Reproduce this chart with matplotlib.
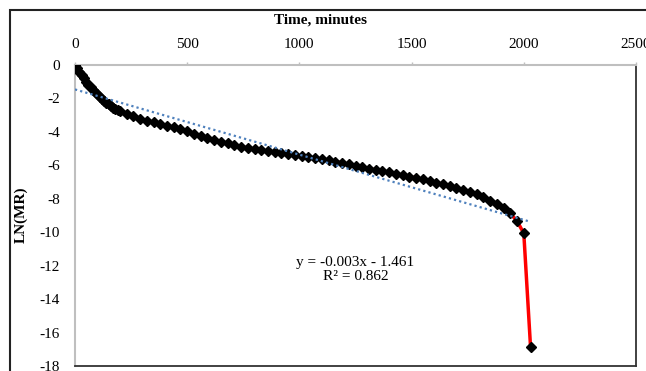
import numpy as np
import matplotlib
matplotlib.use('Agg')
import matplotlib.pyplot as plt
from matplotlib.patches import Rectangle

plt.rcParams['font.family'] = ['Liberation Serif', 'DejaVu Serif']
plt.rcParams['axes.unicode_minus'] = False

# drying time (minutes) and LN(MR)
time_min = [0, 10, 20, 30, 40, 50, 60, 70, 80, 90,
            100, 110, 120, 130, 140, 150, 160, 170, 180, 190,
            200, 230, 260, 290, 320, 350, 380, 410, 440, 470,
            500, 530, 560, 590, 620, 650, 680, 710, 740, 770,
            800, 830, 860, 890, 920, 950, 980, 1010, 1040, 1070,
            1100, 1130, 1160, 1190, 1220, 1250, 1280, 1310, 1340, 1370,
            1400, 1430, 1460, 1490, 1520, 1550, 1580, 1610, 1640, 1670,
            1700, 1730, 1760, 1790, 1820, 1850, 1880, 1910, 1940, 1970,
            2000, 2030]
ln_mr = [0.0, -0.2, -0.4, -0.6, -0.8, -1.0, -1.17, -1.32, -1.47, -1.62,
         -1.76, -1.9, -2.03, -2.15, -2.26, -2.36, -2.46, -2.56, -2.64, -2.7,
         -2.75, -2.92, -3.06, -3.2, -3.32, -3.43, -3.53, -3.63, -3.73, -3.82,
         -3.93, -4.1, -4.24, -4.35, -4.46, -4.58, -4.69, -4.8, -4.89, -4.96,
         -5.03, -5.09, -5.15, -5.2, -5.28, -5.34, -5.4, -5.46, -5.52, -5.58,
         -5.64, -5.7, -5.78, -5.86, -5.95, -6.03, -6.11, -6.2, -6.28, -6.35,
         -6.42, -6.5, -6.6, -6.68, -6.75, -6.84, -6.94, -7.03, -7.14, -7.26,
         -7.37, -7.48, -7.58, -7.73, -7.92, -8.12, -8.32, -8.58, -8.88, -9.33,
         -10.07, -16.85]

# linear trendline as drawn on the chart
trend_slope = -0.0039
trend_intercept = -1.461
trend_label = 'y = -0.003x - 1.461\nR² = 0.862'

x_ticks = [0, 500, 1000, 1500, 2000, 2500]
y_ticks = [0, -2, -4, -6, -8, -10, -12, -14, -16, -18]

fig = plt.figure(figsize=(6.46, 3.71), dpi=100)
ax = fig.add_axes([75 / 646, 1 - 366 / 371, 561 / 646, 301 / 371])

# data series: red line with black diamond markers
ax.plot(time_min, ln_mr, color='red', linewidth=2.5, zorder=2)
ax.plot(time_min, ln_mr, linestyle='none', marker='D', markersize=4.8,
        color='black', zorder=3)

# trendline
tx = np.array([time_min[0], time_min[-1]])
ax.plot(tx, trend_slope * tx + trend_intercept, color='#4F81BD',
        linewidth=1.6, linestyle=(0, (1, 1.4)), zorder=4)

ax.text(1250, -12.25, trend_label, ha='center', va='center', fontsize=11,
        linespacing=1.1)

ax.set_xlim(0, 2500)
ax.set_ylim(-18, 0)
ax.set_xticks(x_ticks)
ax.set_yticks(y_ticks)
ax.xaxis.tick_top()
ax.tick_params(axis='x', length=2.5, width=1, color='#bfbfbf', pad=7.5,
               labelsize=11)
ax.tick_params(axis='y', length=0, pad=11, labelsize=11)

ax.spines['top'].set_color('#bfbfbf')
ax.spines['top'].set_linewidth(1.5)
ax.spines['left'].set_color('#bfbfbf')
ax.spines['left'].set_linewidth(1.5)
ax.spines['right'].set_color('#333333')
ax.spines['bottom'].set_color('#333333')
ax.spines['right'].set_linewidth(1.3)
ax.spines['bottom'].set_linewidth(1.3)

fig.text(320 / 646, 1 - 20.5 / 371, 'Time, minutes', ha='center',
         va='center', fontsize=11, fontweight='bold')
fig.text(21 / 646, 1 - 215 / 371, 'LN(MR)', ha='center', va='center',
         rotation=90, fontsize=11, fontweight='bold')

# outer chart frame (cropped on the right and bottom)
fig.add_artist(Rectangle((10 / 646, -0.2), 1.2, 1 - 10 / 371 + 0.2,
                         transform=fig.transFigure, fill=False,
                         edgecolor='#222222', linewidth=1.5))

fig.savefig('out.png', dpi=100)
